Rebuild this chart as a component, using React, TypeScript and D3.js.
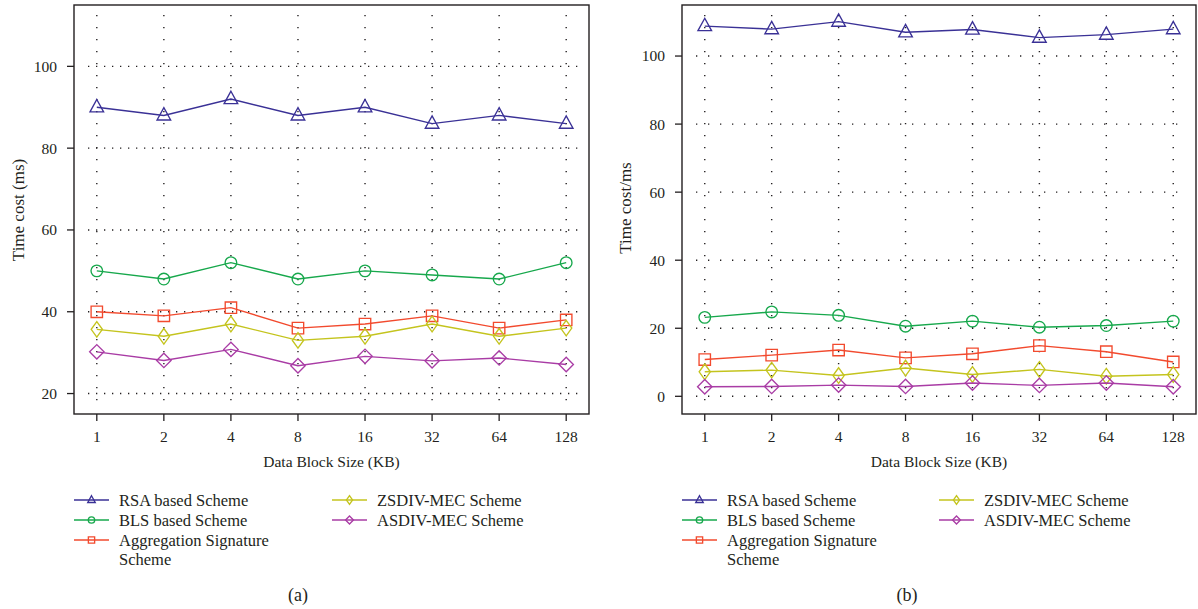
import React from "react";
import * as d3 from "d3";

const xCats = ["1", "2", "4", "8", "16", "32", "64", "128"];
const seriesNames = [
  "RSA based Scheme",
  "BLS based Scheme",
  "Aggregation Signature Scheme",
  "ZSDIV-MEC Scheme",
  "ASDIV-MEC Scheme",
];
const seriesColors = ["#3a3196", "#17a84c", "#f24a2e", "#c4c41e", "#a93ca5"];
const seriesShapes = ["triangle", "circle", "square", "thin-diamond", "diamond"];

const rsaA = [90, 88, 92, 88, 90, 86, 88, 86];
const blsA = [50, 48, 52, 48, 50, 49, 48, 52];
const aggA = [40, 39, 41, 36, 37, 39, 36, 38];
const zsdivA = [35.7, 34, 37, 33, 34, 37, 34, 36];
const asdivA = [30.2, 28.1, 30.8, 26.8, 29.1, 28, 28.7, 27.1];

const rsaB = [108.8, 107.9, 110.1, 107, 107.8, 105.4, 106.3, 107.9];
const blsB = [23.2, 24.8, 23.8, 20.6, 22.1, 20.3, 20.8, 22.1];
const aggB = [10.8, 12.1, 13.6, 11.3, 12.5, 14.9, 13.1, 10.1];
const zsdivB = [7.2, 7.7, 6.1, 8.3, 6.4, 7.9, 5.9, 6.4];
const asdivB = [2.8, 2.9, 3.3, 2.9, 3.9, 3.2, 3.9, 2.8];

const yTicksA = [20, 40, 60, 80, 100];
const yTicksB = [0, 20, 40, 60, 80, 100];

const FONT = "'Liberation Serif', 'DejaVu Serif', serif";
const INK = "#231f20";

function markerPath(shape: string, s: number): string {
  if (shape === "triangle") {
    const w = 6.8 * s, t = 7.8 * s, b = 4.6 * s;
    return `M0,${-t}L${w},${b}L${-w},${b}Z`;
  }
  if (shape === "square") {
    const h = 5.7 * s;
    return `M${-h},${-h}L${h},${-h}L${h},${h}L${-h},${h}Z`;
  }
  if (shape === "thin-diamond") {
    const w = 5.6 * s, h = 7.8 * s;
    return `M0,${-h}L${w},0L0,${h}L${-w},0Z`;
  }
  if (shape === "diamond") {
    const w = 7.2 * s, h = 7.2 * s;
    return `M0,${-h}L${w},0L0,${h}L${-w},0Z`;
  }
  return "";
}

function Marker({ shape, color, x, y, s }: { shape: string; color: string; x: number; y: number; s: number }) {
  if (shape === "circle") {
    return <circle cx={x} cy={y} r={5.8 * s} fill="none" stroke={color} strokeWidth={1.35} />;
  }
  return (
    <path d={markerPath(shape, s)} transform={`translate(${x},${y})`} fill="none" stroke={color} strokeWidth={1.35} />
  );
}

type PanelProps = {
  left: number;
  right: number;
  top: number;
  bottom: number;
  yDomain: [number, number];
  yTicks: number[];
  series: number[][];
  yLabel: string;
  yLabelX: number;
  yLabelY: number;
  hDash: string;
  legendX1: number;
  legendX2: number;
  caption: string;
  captionX: number;
};

function Panel(p: PanelProps) {
  const x = d3.scalePoint<string>().domain(xCats).range([p.left, p.right]).padding(0.34);
  const y = d3.scaleLinear().domain(p.yDomain).range([p.bottom, p.top]);
  const line = d3
    .line<number>()
    .x((_, i) => x(xCats[i]) as number)
    .y((d) => y(d));

  const gridL = p.left + 14;
  const gridR = p.right - 8;
  const gridT = p.top + 10;
  const gridB = p.bottom - 12;

  const legendRows = [
    { idx: 0, col: 0, row: 0 },
    { idx: 1, col: 0, row: 1 },
    { idx: 2, col: 0, row: 2 },
    { idx: 3, col: 1, row: 0 },
    { idx: 4, col: 1, row: 1 },
  ];

  return (
    <g>
      {p.yTicks.map((t) => (
        <line key={"h" + t} x1={gridL} x2={gridR} y1={y(t)} y2={y(t)} stroke={INK} strokeWidth={1.4} strokeDasharray={p.hDash} />
      ))}
      {xCats.map((c) => (
        <line key={"v" + c} x1={x(c)} x2={x(c)} y1={gridT} y2={gridB} stroke={INK} strokeWidth={1.4} strokeDasharray="1.3,10.7" />
      ))}
      <rect x={p.left} y={p.top} width={p.right - p.left} height={p.bottom - p.top} fill="none" stroke={INK} strokeWidth={1.4} />
      {p.yTicks.map((t) => (
        <g key={"yt" + t}>
          <line x1={p.left - 7} x2={p.left} y1={y(t)} y2={y(t)} stroke={INK} strokeWidth={1.3} />
          <text x={p.left - 17} y={y(t)} dy="0.35em" textAnchor="end" fontFamily={FONT} fontSize={15.5} fill={INK}>
            {t}
          </text>
        </g>
      ))}
      {xCats.map((c) => (
        <g key={"xt" + c}>
          <line x1={x(c)} x2={x(c)} y1={p.bottom} y2={p.bottom + 7} stroke={INK} strokeWidth={1.3} />
          <text x={x(c)} y={442} textAnchor="middle" fontFamily={FONT} fontSize={15.5} fill={INK}>
            {c}
          </text>
        </g>
      ))}
      <text x={(p.left + p.right) / 2} y={467} textAnchor="middle" fontFamily={FONT} fontSize={15.5} fill={INK}>
        Data Block Size (KB)
      </text>
      <text
        transform={`translate(${p.yLabelX},${p.yLabelY}) rotate(-90)`}
        textAnchor="middle"
        dy="0.35em"
        fontFamily={FONT}
        fontSize={17}
        fill={INK}
      >
        {p.yLabel}
      </text>
      {p.series.map((vals, si) => (
        <g key={"s" + si}>
          <path d={line(vals) as string} fill="none" stroke={seriesColors[si]} strokeWidth={1.4} />
          {vals.map((v, i) => (
            <Marker key={i} shape={seriesShapes[si]} color={seriesColors[si]} x={x(xCats[i]) as number} y={y(v)} s={1} />
          ))}
        </g>
      ))}
      {legendRows.map((r) => {
        const lx = r.col === 0 ? p.legendX1 : p.legendX2;
        const ly = 500 + r.row * 20;
        const color = seriesColors[r.idx];
        const name = seriesNames[r.idx];
        const words = r.idx === 2 ? ["Aggregation Signature", "Scheme"] : [name];
        return (
          <g key={"lg" + r.idx}>
            <line x1={lx} x2={lx + 35} y1={ly} y2={ly} stroke={color} strokeWidth={1.4} />
            <Marker shape={seriesShapes[r.idx]} color={color} x={lx + 17.5} y={ly} s={0.55} />
            {words.map((w, wi) => (
              <text key={wi} x={lx + 45} y={ly + wi * 19} dy="0.35em" fontFamily={FONT} fontSize={16.5} fill={INK}>
                {w}
              </text>
            ))}
          </g>
        );
      })}
      <text x={p.captionX} y={595} dy="0.35em" textAnchor="middle" fontFamily={FONT} fontSize={18} fill={INK}>
        {p.caption}
      </text>
    </g>
  );
}

export default function App() {
  return (
    <svg width={1198} height={609} style={{ position: "absolute", left: 0, top: 0, background: "#fff" }}>
      <rect x={0} y={0} width={1198} height={609} fill="#fff" />
      <Panel
        left={74}
        right={589}
        top={5}
        bottom={414}
        yDomain={[15, 115]}
        yTicks={yTicksA}
        series={[rsaA, blsA, aggA, zsdivA, asdivA]}
        yLabel="Time cost (ms)"
        yLabelX={18}
        yLabelY={210}
        hDash="1.3,6.7"
        legendX1={74}
        legendX2={332}
        caption="(a)"
        captionX={298}
      />
      <Panel
        left={682}
        right={1196}
        top={5}
        bottom={414}
        yDomain={[-5.2, 115]}
        yTicks={yTicksB}
        series={[rsaB, blsB, aggB, zsdivB, asdivB]}
        yLabel="Time cost/ms"
        yLabelX={625}
        yLabelY={208}
        hDash="1.3,10.7"
        legendX1={682}
        legendX2={939}
        caption="(b)"
        captionX={907}
      />
    </svg>
  );
}
